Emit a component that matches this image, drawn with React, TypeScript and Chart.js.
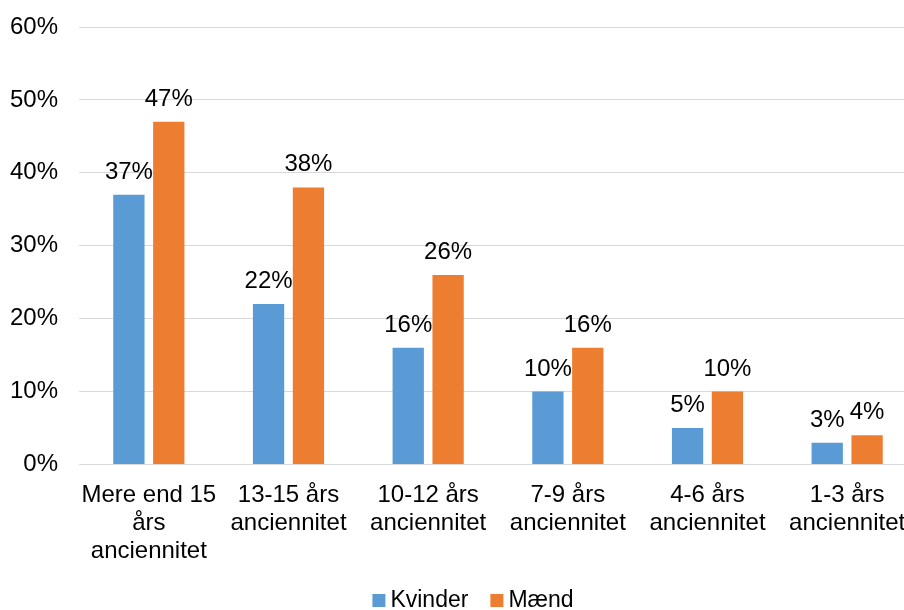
import React, { useEffect, useRef } from "react";
import { Chart, registerables } from "chart.js";

Chart.register(...registerables);

const categories: string[][] = [
  ["Mere end 15", "års", "anciennitet"],
  ["13-15 års", "anciennitet"],
  ["10-12 års", "anciennitet"],
  ["7-9 års", "anciennitet"],
  ["4-6 års", "anciennitet"],
  ["1-3 års", "anciennitet"],
];
const kvinder = [37, 22, 16, 10, 5, 3];
const maend = [47, 38, 26, 16, 10, 4];
const seriesNames = ["Kvinder", "Mænd"];
const seriesColors = ["#5B9BD5", "#ED7D31"];
const yMax = 60;
const yStep = 10;

const FONT = "'Liberation Sans', Arial, sans-serif";
const FS = 24;
const LEGEND_FS = 23;

const dataLabelPlugin = {
  id: "dataLabels",
  afterDatasetsDraw(chart: any) {
    const ctx = chart.ctx;
    ctx.save();
    ctx.font = `${FS}px ${FONT}`;
    ctx.fillStyle = "#000";
    ctx.textAlign = "center";
    ctx.textBaseline = "alphabetic";
    chart.data.datasets.forEach((ds: any, i: number) => {
      const meta = chart.getDatasetMeta(i);
      meta.data.forEach((bar: any, j: number) => {
        ctx.fillText(`${ds.data[j]}%`, bar.x, bar.y - 16);
      });
    });
    ctx.restore();
  },
};

const legendPlugin = {
  id: "customLegend",
  afterDraw(chart: any) {
    const ctx = chart.ctx;
    ctx.save();
    ctx.font = `${LEGEND_FS}px ${FONT}`;
    const box = 13;
    const gap = 5;
    const spacing = 22;
    const items = chart.data.datasets.map((ds: any) => ({
      label: ds.label,
      color: ds.backgroundColor,
      w: box + gap + ctx.measureText(ds.label).width,
    }));
    const total = items.reduce((s: number, it: any) => s + it.w, 0) + spacing * (items.length - 1);
    let x = chart.width / 2 - total / 2;
    const cy = 600;
    items.forEach((it: any) => {
      ctx.fillStyle = it.color;
      ctx.fillRect(x, cy - 6, box, box);
      ctx.fillStyle = "#000";
      ctx.textAlign = "left";
      ctx.textBaseline = "middle";
      ctx.fillText(it.label, x + box + gap, cy + 1);
      x += it.w + spacing;
    });
    ctx.restore();
  },
};

export default function App() {
  const ref = useRef<HTMLCanvasElement>(null);
  useEffect(() => {
    const chart = new Chart(ref.current!, {
      type: "bar",
      data: {
        labels: categories,
        datasets: [
          { label: seriesNames[0], data: kvinder, backgroundColor: seriesColors[0] },
          { label: seriesNames[1], data: maend, backgroundColor: seriesColors[1] },
        ],
      },
      options: {
        responsive: false,
        animation: false,
        devicePixelRatio: 1,
        layout: { padding: { top: 27, right: 29, left: 0, bottom: 0 } },
        datasets: {
          bar: { categoryPercentage: 0.571, barPercentage: 0.785 },
        },
        plugins: {
          legend: { display: false },
          tooltip: { enabled: false },
        },
        scales: {
          x: {
            grid: { display: false, drawTicks: false },
            border: { display: false },
            ticks: {
              color: "#000",
              font: { family: FONT, size: FS, lineHeight: 1.16 },
              padding: 17,
              maxRotation: 0,
              autoSkip: false,
            },
            afterFit(scale: any) {
              scale.height = 145.5;
            },
          },
          y: {
            min: 0,
            max: yMax,
            grid: { color: "#D9D9D9", lineWidth: 1, drawTicks: false },
            border: { display: false },
            ticks: {
              stepSize: yStep,
              color: "#000",
              font: { family: FONT, size: FS },
              padding: 21,
              callback: (v: any) => `${v}%`,
            },
            afterFit(scale: any) {
              scale.width = 79;
              scale.paddingTop = 0;
              scale.paddingBottom = 0;
            },
          },
        },
      },
      plugins: [dataLabelPlugin, legendPlugin],
    });
    return () => chart.destroy();
  }, []);
  return (
    <div
      style={{
        position: "fixed",
        left: 0,
        top: 0,
        width: 904,
        height: 610,
        overflow: "hidden",
        background: "#fff",
      }}
    >
      <canvas ref={ref} width={946} height={610} style={{ display: "block" }} />
    </div>
  );
}
